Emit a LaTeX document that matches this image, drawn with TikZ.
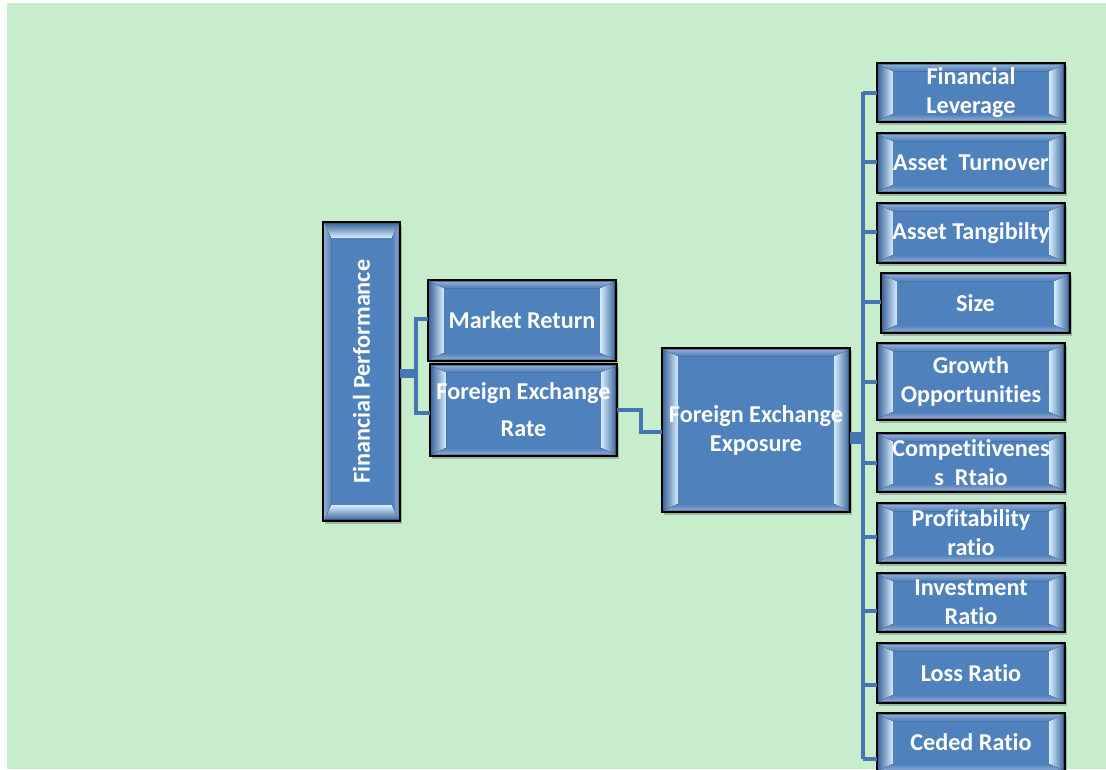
\documentclass[tikz,border=0pt]{standalone}
\usepackage{fontspec}
\setmainfont{Carlito}[RawFeature={-liga;-clig;-dlig;-calt}]
\usepackage{graphicx}
\usetikzlibrary{calc}
\definecolor{bggreen}{HTML}{C8EDCC}
\definecolor{boxblue}{HTML}{4F81BD}
\definecolor{hilite}{HTML}{D8EEFF}
\definecolor{bevtop}{HTML}{8FAAD2}
\definecolor{conncol}{HTML}{4676B2}
\definecolor{shadowcol}{HTML}{9FB8A3}
\tikzset{
  boxbase/.style={draw=black, line width=1.6pt, fill=boxblue, inner sep=0pt, outer sep=0pt,
    preaction={fill=shadowcol, transform canvas={shift={(2pt,-3pt)}}}},
  conn/.style={draw=conncol, line width=4pt},
  connthick/.style={draw=conncol, line width=9pt},
  lbl/.style={text=white, align=center, inner sep=0pt, font=\fontsize{24.2}{29}\selectfont\bfseries},
}
% horizontal bevel: bright strips on left and right ends
\newcommand\bevH[1]{%
  \fill[left color=boxblue!85!black, right color=hilite]
    let \p1=(#1.south west), \p2=(#1.north east) in
    (\x1+1.5pt,\y1+1.5pt) -- (\x1+16pt,\y1+8pt) -- (\x1+16pt,\y2-8pt) -- (\x1+1.5pt,\y2-1.5pt) -- cycle;
  \fill[left color=hilite, right color=boxblue!85!black]
    let \p1=(#1.south west), \p2=(#1.north east) in
    (\x2-1.5pt,\y1+1.5pt) -- (\x2-16pt,\y1+8pt) -- (\x2-16pt,\y2-8pt) -- (\x2-1.5pt,\y2-1.5pt) -- cycle;
  \fill[top color=bevtop, bottom color=boxblue]
    let \p1=(#1.south west), \p2=(#1.north east) in
    (\x1+1.5pt,\y2-1.5pt) -- (\x2-1.5pt,\y2-1.5pt) -- (\x2-16pt,\y2-8pt) -- (\x1+16pt,\y2-8pt) -- cycle;
  \fill[top color=boxblue, bottom color=bevtop]
    let \p1=(#1.south west), \p2=(#1.north east) in
    (\x1+1.5pt,\y1+1.5pt) -- (\x2-1.5pt,\y1+1.5pt) -- (\x2-16pt,\y1+8pt) -- (\x1+16pt,\y1+8pt) -- cycle;
}
% vertical bevel: bright strips on top and bottom ends
\newcommand\bevV[1]{%
  \fill[top color=boxblue!85!black, bottom color=hilite]
    let \p1=(#1.south west), \p2=(#1.north east) in
    (\x1+1.5pt,\y2-1.5pt) -- (\x2-1.5pt,\y2-1.5pt) -- (\x2-8pt,\y2-16pt) -- (\x1+8pt,\y2-16pt) -- cycle;
  \fill[top color=hilite, bottom color=boxblue!85!black]
    let \p1=(#1.south west), \p2=(#1.north east) in
    (\x1+1.5pt,\y1+1.5pt) -- (\x2-1.5pt,\y1+1.5pt) -- (\x2-8pt,\y1+16pt) -- (\x1+8pt,\y1+16pt) -- cycle;
  \fill[left color=bevtop, right color=boxblue]
    let \p1=(#1.south west), \p2=(#1.north east) in
    (\x1+1.5pt,\y1+1.5pt) -- (\x1+8pt,\y1+16pt) -- (\x1+8pt,\y2-16pt) -- (\x1+1.5pt,\y2-1.5pt) -- cycle;
  \fill[left color=boxblue, right color=bevtop]
    let \p1=(#1.south west), \p2=(#1.north east) in
    (\x2-1.5pt,\y1+1.5pt) -- (\x2-8pt,\y1+16pt) -- (\x2-8pt,\y2-16pt) -- (\x2-1.5pt,\y2-1.5pt) -- cycle;
}
\begin{document}
\begin{tikzpicture}[x=1pt, y=-1pt]
\useasboundingbox (0,0) rectangle (1106,769);
\fill[white] (0,0) rectangle (1106,769);
\fill[bggreen] (7,3) rectangle (1106,769);

\coordinate (j1) at (416,373);
\coordinate (ttop) at (863,92);
\coordinate (tbot) at (863,759);

% box frames
\node[boxbase, minimum width=77pt, minimum height=299pt] (fp) at (361.5,371.5) {};
\node[boxbase, minimum width=188pt, minimum height=81pt] (mr) at (522,320.5) {};
\node[boxbase, minimum width=187pt, minimum height=92pt] (fxr) at (523.5,410) {};
\node[boxbase, minimum width=188pt, minimum height=164pt] (exp) at (756,430) {};
\node[boxbase, minimum width=188pt, minimum height=59pt] (fl) at (971,92.5) {};
\node[boxbase, minimum width=188pt, minimum height=60pt] (at) at (971,163) {};
\node[boxbase, minimum width=188pt, minimum height=60pt] (atg) at (971,233) {};
\node[boxbase, minimum width=189pt, minimum height=60pt] (sz) at (975.5,303) {};
\node[boxbase, minimum width=188pt, minimum height=77pt] (gr) at (971,381.5) {};
\node[boxbase, minimum width=188pt, minimum height=59pt] (cp) at (971,462.5) {};
\node[boxbase, minimum width=188pt, minimum height=60pt] (pr) at (971,533) {};
\node[boxbase, minimum width=188pt, minimum height=59pt] (inv) at (971,602.5) {};
\node[boxbase, minimum width=188pt, minimum height=60pt] (ls) at (971,673) {};
\node[boxbase, minimum width=188pt, minimum height=59pt] (cd) at (971,742.5) {};

% bevels
\bevV{fp}
\foreach \bx in {mr,fxr,exp,fl,at,atg,sz,gr,cp,pr,inv,ls,cd}{\bevH{\bx}}

% labels
\node[lbl] at (fp)  {\rotatebox{90}{Financial Performance}};
\node[lbl] at (mr)  {Market Return};
\node[lbl] at (fxr) {Foreign Exchange\\[8pt]Rate};
\node[lbl] at (exp) {Foreign Exchange\\Exposure};
\node[lbl] at (fl)  {Financial\\Leverage};
\node[lbl] at (at)  {Asset\ \ Turnover};
\node[lbl] at (atg) {Asset Tangibilty};
\node[lbl] at (sz)  {Size};
\node[lbl] at (gr)  {Growth\\Opportunities};
\node[lbl] at (cp)  {Competitivenes\\s\ \ Rtaio};
\node[lbl] at (pr)  {Profitability\\ratio};
\node[lbl] at (inv) {Investment\\Ratio};
\node[lbl] at (ls)  {Loss Ratio};
\node[lbl] at (cd)  {Ceded Ratio};

% left connectors
\draw[connthick] ([yshift=-1.5pt]fp.east) -- ([yshift=-1.5pt]fp.east -| j1);
\draw[conn] ([yshift=1.5pt]mr.west) -| (j1) |- ([yshift=-3pt]fxr.west);
\draw[conn] (fxr.east) -- ++(24,0) |- ([yshift=-2pt]exp.west);

% right connectors
\draw[draw=conncol, line width=12pt] ([yshift=-8pt]exp.east) -- ([yshift=-8pt]exp.east -| ttop);
\draw[conn] (ttop) -- (tbot);
\foreach \bx/\s in {fl/0,at/1,atg/1,sz/1,gr/0,cp/0,pr/-4,inv/-8.5,ls/-12,cd/-16.5}{
  \path ([yshift=\s pt]\bx.west) coordinate (tmp);
  \draw[conn] (tmp -| ttop) -- (tmp);
}
\end{tikzpicture}
\end{document}
